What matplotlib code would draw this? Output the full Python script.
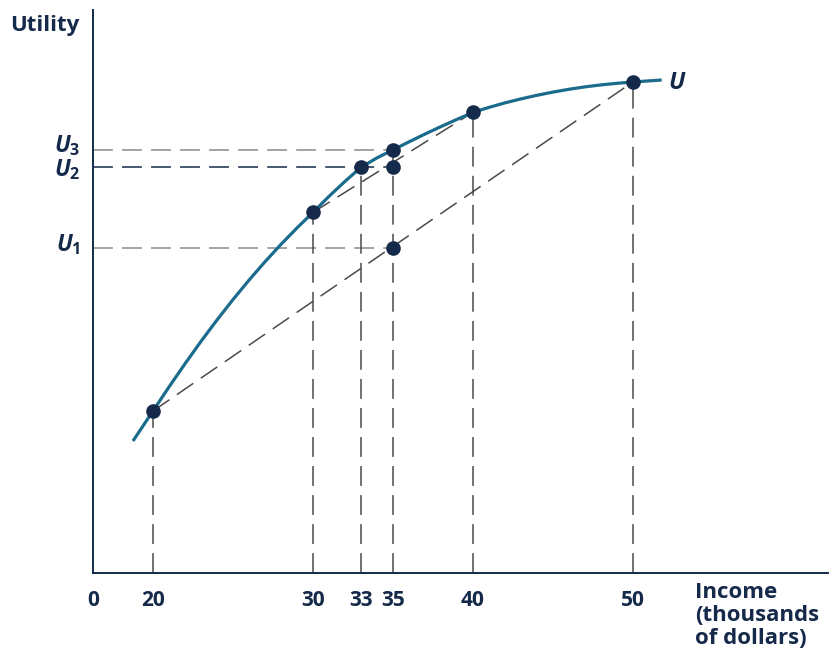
import matplotlib
matplotlib.use("Agg")
import matplotlib.pyplot as plt

plt.rcParams['font.family'] = ['Open Sans', 'DejaVu Sans']
plt.rcParams['mathtext.fontset'] = 'custom'
plt.rcParams['mathtext.it'] = 'Open Sans:italic:bold'
plt.rcParams['mathtext.rm'] = 'Open Sans:bold'

# utility curve (income in thousands, utility in arbitrary units)
curve_income = [18.75, 20, 21, 22, 23, 24, 25, 26, 27, 28, 29, 30, 31, 32, 33, 34, 35,
                36, 37, 38, 39, 40, 41, 42, 43, 44, 45, 46, 47, 48, 49, 50, 51.8]
curve_util = [13.2, 16.2, 18.6, 20.92, 23.16, 25.3, 27.34, 29.28, 31.12, 32.86, 34.5,
              36.06, 37.66, 39.16, 40.56, 41.51, 42.31, 43.11, 43.89, 44.64, 45.36, 46.06,
              46.56, 47.01, 47.41, 47.77, 48.09, 48.37, 48.61, 48.81, 48.97, 49.1, 49.3]

# marked points on the curve
pt_income = [20, 30, 33, 35, 40, 50]
pt_util = [16.2, 36.06, 40.56, 42.31, 46.06, 49.1]

# chord points at income 35
U1, U2, U3 = 32.5, 40.56, 42.31
chord_income = [35, 35]
chord_util = [U2, U1]

xtick_income = [20, 30, 33, 35, 40, 50]
xtick_labels = ['20', '30', '33', '35', '40', '50']
u_labels = ['$U_1$', '$U_2$', '$U_3$']
u_label_shift = [0.3, -0.25, 0.45]

navy = '#15294a'
teal = '#1b6b8c'
xmin, xmax = 16.25, 62.2
ymin, ymax = 0, 56.3

fig = plt.figure(figsize=(8.3, 6.56), dpi=100)
ax = fig.add_axes([93/830, 83/656, 735/830, 563/656])
ax.set_xlim(xmin, xmax)
ax.set_ylim(ymin, ymax)

dash = dict(dashes=(13, 6), lw=1.1)
# horizontal guides
ax.plot([xmin, 35], [U3, U3], color='#8a8a8a', **dash)
ax.plot([xmin, 35], [U2, U2], color=navy, **dash)
ax.plot([xmin, 35], [U1, U1], color='#8a8a8a', **dash)
# vertical guides
for xi, yi in zip(pt_income, pt_util):
    ax.plot([xi, xi], [ymin, yi], color='#4a4a4a', **dash)
# chords
ax.plot([20, 50], [pt_util[0], pt_util[-1]], color='#4a4a4a', **dash)
ax.plot([30, 40], [pt_util[1], pt_util[4]], color='#4a4a4a', **dash)

ax.plot(curve_income, curve_util, color=teal, lw=2.3, solid_capstyle='butt',
        solid_joinstyle='round')
ax.plot(pt_income, pt_util, 'o', color=navy, ms=9.5, zorder=5)
ax.plot(chord_income, chord_util, 'o', color=navy, ms=9.5, zorder=5)

ax.text(curve_income[-1] + 0.4, curve_util[-1] - 0.3, '$U$', fontsize=17, color=navy,
        ha='left', va='center')

for s in ['top', 'right']:
    ax.spines[s].set_visible(False)
for s in ['left', 'bottom']:
    ax.spines[s].set_color(navy)
    ax.spines[s].set_linewidth(1.4)

ax.set_xticks([xmin] + xtick_income)
ax.set_xticklabels(['0'] + xtick_labels, fontsize=15, fontweight='bold', color=navy)
ax.set_yticks([])
ax.tick_params(length=0)
ax.tick_params(axis='x', pad=12)

for u, lab, dy in zip([U1, U2, U3], u_labels, u_label_shift):
    ax.text(xmin - 0.8, u + dy, lab, fontsize=16.5, color=navy, ha='right', va='center')

fig.text(10/830, 1 - 25/656, 'Utility', fontsize=16, fontweight='bold', color=navy,
         ha='left', va='center')
fig.text(695/830, 1 - 582/656, 'Income\n(thousands\nof dollars)', fontsize=16,
         fontweight='bold', color=navy, ha='left', va='top', linespacing=1.12)

fig.savefig('out.png', dpi=100)
